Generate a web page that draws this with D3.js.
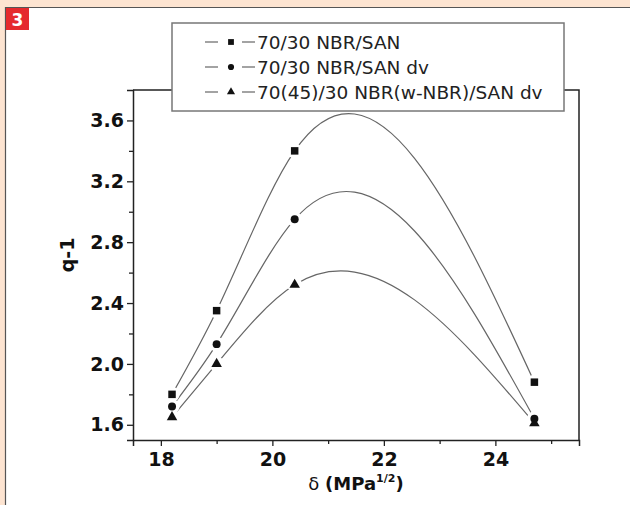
<!DOCTYPE html>
<html>
<head>
<meta charset="utf-8">
<script src="https://cdn.jsdelivr.net/npm/d3@7"></script>
<style>
  body { margin: 0; background: #fde4d1; }
  svg { display: block; font-family: "DejaVu Sans", sans-serif; }
</style>
</head>
<body>
<div id="chart"></div>
<script>
// data
const deltaVals = [18.2, 19.0, 20.4, 24.7];
const seriesNames = ["70/30 NBR/SAN", "70/30 NBR/SAN dv", "70(45)/30 NBR(w-NBR)/SAN dv"];
const sanVals   = [1.80, 2.35, 3.40, 1.88];
const sanDvVals = [1.72, 2.13, 2.95, 1.64];
const wnbrVals  = [1.65, 2.00, 2.52, 1.61];
const xTicks = [18, 20, 22, 24];
const yTicks = [1.6, 2.0, 2.4, 2.8, 3.2, 3.6];

const W = 630, H = 505;
const svg = d3.select("#chart").append("svg").attr("width", W).attr("height", H);

// white panel with frame lines
svg.append("rect").attr("x", 5).attr("y", 7).attr("width", W).attr("height", H).attr("fill", "#fff");
svg.append("path").attr("d", "M5.5," + H + "V7.5H" + W).attr("fill", "none").attr("stroke", "#555").attr("stroke-width", 1.2);
svg.append("rect").attr("x", 6).attr("y", 8).attr("width", 23).attr("height", 22).attr("fill", "#e52a2d");
svg.append("text").attr("x", 17.5).attr("y", 26).attr("text-anchor", "middle").attr("fill", "#fff")
  .attr("font-weight", "bold").attr("font-size", 17).text("3");

const x = d3.scaleLinear().domain([17.5, 25.5]).range([133, 579]);
const y = d3.scaleLinear().domain([1.5, 3.8]).range([440, 90]);

// natural cubic spline y(x), drawn as exact bezier segments
function SplineX(context) { this._context = context; }
SplineX.prototype = {
  areaStart() {}, areaEnd() {},
  lineStart() { this._x = []; this._y = []; },
  point(px, py) { this._x.push(+px); this._y.push(+py); },
  lineEnd() {
    let xs = this._x, ys = this._y, n = xs.length, c = this._context;
    if (!n) return;
    c.moveTo(xs[0], ys[0]);
    if (n < 3) { for (let i = 1; i < n; i++) c.lineTo(xs[i], ys[i]); return; }
    let h = [], d = [];
    for (let i = 0; i < n - 1; i++) { h[i] = xs[i + 1] - xs[i]; d[i] = (ys[i + 1] - ys[i]) / h[i]; }
    // thomas algorithm for second derivatives
    let M = new Array(n).fill(0), a = [], b = [], r = [];
    for (let i = 1; i < n - 1; i++) {
      a[i] = h[i - 1]; b[i] = 2 * (h[i - 1] + h[i]); r[i] = 6 * (d[i] - d[i - 1]);
    }
    let cp = [], rp = [];
    for (let i = 1; i < n - 1; i++) {
      let den = b[i] - (i > 1 ? a[i] * cp[i - 1] : 0);
      cp[i] = h[i] / den;
      rp[i] = (r[i] - (i > 1 ? a[i] * rp[i - 1] : 0)) / den;
    }
    for (let i = n - 2; i >= 1; i--) M[i] = rp[i] - cp[i] * M[i + 1];
    for (let i = 0; i < n - 1; i++) {
      let s0 = d[i] - h[i] * (2 * M[i] + M[i + 1]) / 6;
      let s1 = d[i] + h[i] * (M[i] + 2 * M[i + 1]) / 6;
      c.bezierCurveTo(xs[i] + h[i] / 3, ys[i] + s0 * h[i] / 3,
                      xs[i + 1] - h[i] / 3, ys[i + 1] - s1 * h[i] / 3,
                      xs[i + 1], ys[i + 1]);
    }
  }
};
const splineX = ctx => new SplineX(ctx);

const series = [
  { name: seriesNames[0], vals: sanVals, sym: d3.symbolSquare, size: 56 },
  { name: seriesNames[1], vals: sanDvVals, sym: d3.symbolCircle, size: 50 },
  { name: seriesNames[2], vals: wnbrVals, sym: d3.symbolTriangle, size: 48 }
];

// gaps round the symbols
const mask = svg.append("defs").append("mask").attr("id", "gaps").attr("maskUnits", "userSpaceOnUse");
mask.append("rect").attr("width", W).attr("height", H).attr("fill", "#fff");
series.forEach(s => {
  mask.selectAll(null).data(deltaVals).enter().append("circle")
    .attr("cx", (d) => x(d)).attr("cy", (d, i) => y(s.vals[i])).attr("r", 7.5).attr("fill", "#000");
});

const line = d3.line().x((d) => x(d[0])).y((d) => y(d[1])).curve(splineX);
const curves = svg.append("g").attr("mask", "url(#gaps)");
series.forEach(s => {
  curves.append("path").attr("d", line(deltaVals.map((d, i) => [d, s.vals[i]])))
    .attr("fill", "none").attr("stroke", "#666").attr("stroke-width", 1.2);
});

series.forEach(s => {
  svg.append("g").selectAll("path").data(deltaVals).enter().append("path")
    .attr("transform", (d, i) => "translate(" + x(d) + "," + y(s.vals[i]) + ")")
    .attr("d", d3.symbol(s.sym, s.size)).attr("fill", "#111");
});

// axes
svg.append("g").attr("transform", "translate(0,440)")
  .call(d3.axisBottom(x).tickValues(xTicks).tickFormat(d3.format("d")).tickSize(6).tickPadding(7));
svg.append("g").attr("transform", "translate(0,440)")
  .call(d3.axisBottom(x).tickValues([19, 21, 23, 25]).tickFormat("").tickSize(4))
  .select(".domain").remove();
svg.append("g").attr("transform", "translate(133,0)")
  .call(d3.axisLeft(y).tickValues(yTicks).tickFormat(d3.format(".1f")).tickSize(6).tickPadding(3));
svg.append("g").attr("transform", "translate(133,0)")
  .call(d3.axisLeft(y).tickValues([1.8, 2.2, 2.6, 3.0, 3.4]).tickFormat("").tickSize(4))
  .select(".domain").remove();
svg.selectAll(".tick line").attr("stroke", "#222").attr("stroke-width", 1.3);
svg.selectAll(".domain").attr("stroke", "#222").attr("stroke-width", 1.5);
svg.selectAll(".tick text").attr("font-size", 19).attr("font-weight", "bold").attr("fill", "#111")
  .attr("font-family", "DejaVu Sans, sans-serif");

// top and right frame
svg.append("path").attr("d", "M" + x(17.5) + "," + y(3.8) + "H" + x(25.5) + "V" + y(1.5))
  .attr("fill", "none").attr("stroke", "#222").attr("stroke-width", 1.5);

// axis titles
svg.append("text").attr("transform", "translate(74,255) rotate(-90)").attr("text-anchor", "middle")
  .attr("font-size", 19).attr("font-weight", "bold").attr("fill", "#111").text("q-1");
const xt = svg.append("text").attr("x", 356).attr("y", 490).attr("text-anchor", "middle")
  .attr("font-size", 18).attr("fill", "#111");
xt.append("tspan").text("δ ");
xt.append("tspan").attr("font-weight", "bold").text("(MPa");
xt.append("tspan").attr("font-weight", "bold").attr("font-size", 11).attr("dy", -8).text("1/2");
xt.append("tspan").attr("font-weight", "bold").attr("dy", 8).text(")");

// legend
const lg = svg.append("g");
lg.append("rect").attr("x", 172).attr("y", 23).attr("width", 392).attr("height", 88)
  .attr("fill", "#fff").attr("stroke", "#777").attr("stroke-width", 1.5);
series.forEach((s, i) => {
  const cy = 42 + i * 25;
  lg.append("line").attr("x1", 205).attr("x2", 218).attr("y1", cy).attr("y2", cy).attr("stroke", "#666").attr("stroke-width", 1.2);
  lg.append("line").attr("x1", 242).attr("x2", 255).attr("y1", cy).attr("y2", cy).attr("stroke", "#666").attr("stroke-width", 1.2);
  lg.append("path").attr("transform", "translate(231," + cy + ")").attr("d", d3.symbol(s.sym, s.size * 0.6)).attr("fill", "#111");
  lg.append("text").attr("x", 257).attr("y", cy + 6.5).attr("font-size", 18.5).attr("fill", "#222").text(s.name);
});
</script>
</body>
</html>
